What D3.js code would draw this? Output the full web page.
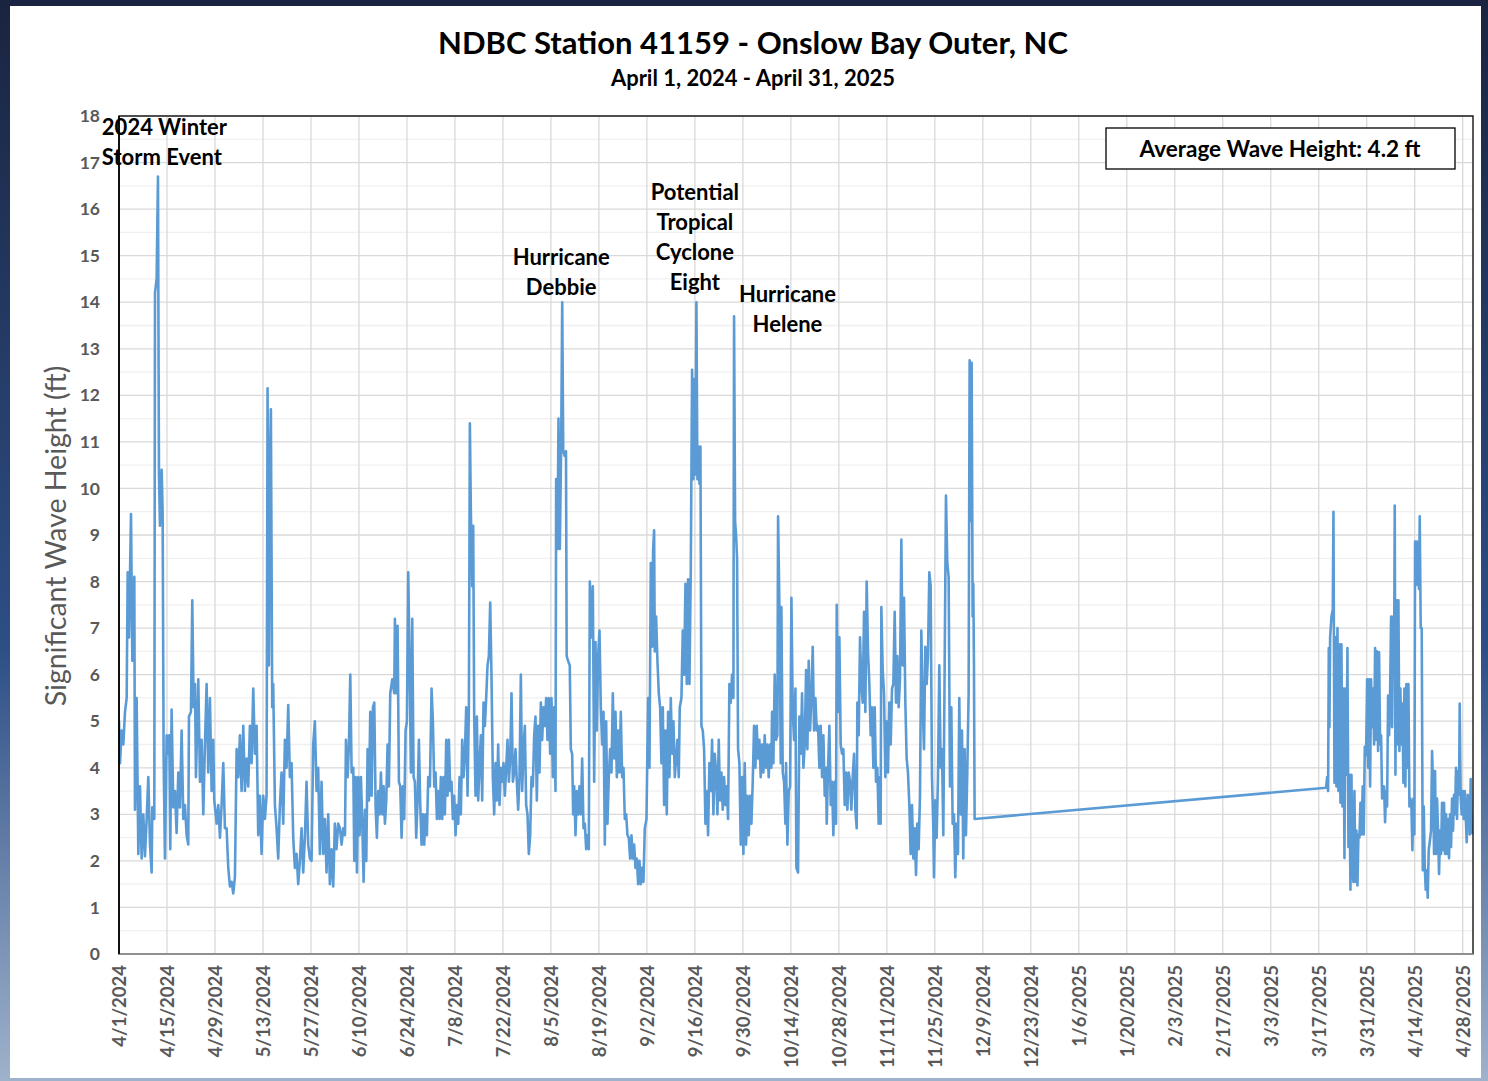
<!DOCTYPE html>
<html>
<head>
<meta charset="utf-8">
<script src="https://cdn.jsdelivr.net/npm/d3@7/dist/d3.min.js"></script>
<style>
  html, body { margin: 0; padding: 0; background: #1b2744; }
  svg { display: block; }
  text { font-family: Lato, "Open Sans", "DejaVu Sans", sans-serif; }
</style>
</head>
<body>
<script>
// ---------------- DATA ----------------
const chartTitle = "NDBC Station 41159 - Onslow Bay Outer, NC";
const chartSubtitle = "April 1, 2024 - April 31, 2025";
const yAxisTitle = "Significant Wave Height (ft)";
const averageLabel = "Average Wave Height: 4.2 ft";
const seriesStart = "2024-04-01";           // day 0 of the readings
const xDomainDates = ["2024-04-01", "2025-05-01"];
const yTickValues = [0,1,2,3,4,5,6,7,8,9,10,11,12,13,14,15,16,17,18];
const xTickLabels = ["4/1/2024","4/15/2024","4/29/2024","5/13/2024","5/27/2024","6/10/2024","6/24/2024",
  "7/8/2024","7/22/2024","8/5/2024","8/19/2024","9/2/2024","9/16/2024","9/30/2024","10/14/2024",
  "10/28/2024","11/11/2024","11/25/2024","12/9/2024","12/23/2024","1/6/2025","1/20/2025","2/3/2025",
  "2/17/2025","3/3/2025","3/17/2025","3/31/2025","4/14/2025","4/28/2025"];

// readings: [days since seriesStart, significant wave height ft]
const springRun2024 = [
[0,5.0],[0.29,4.1],[0.78,4.8],[1.26,4.5],[1.75,5.2],[2.24,5.5],[2.53,8.2],[2.92,6.8],[3.5,9.45],[3.89,6.3],
[4.47,8.1],[4.66,3.1],[5.15,5.5],[5.64,2.15],[6.12,3.6],[6.61,2.05],[7.09,3.0],[7.58,2.1],[8.07,2.9],[8.55,3.8],
[9.04,2.35],[9.52,1.75],[9.72,3.15],[10.3,2.9],[10.5,14.2],[10.98,14.5],[11.37,16.7],[11.66,10.3],[11.95,9.2],[12.44,10.4],
[12.73,9.5],[13.02,4.2],[13.41,2.05],[13.9,4.7],[14.38,4.3],[14.67,4.7],[14.96,2.25],[15.35,5.25],[15.84,3.15],[16.33,3.5],
[16.81,2.6],[17.3,3.9],[17.78,3.15],[18.27,4.8],[18.76,2.9],[19.24,3.2],[19.73,2.55],[20.21,2.35],[20.41,5.1],[20.99,5.2],
[21.38,7.6],[21.77,5.3],[22.16,5.8],[22.45,3.8],[23.13,5.9],[23.62,3.7],[24.1,4.6],[24.59,3.0],[25.07,4.5],[25.56,5.8],
[26.04,3.9],[26.53,5.5],[27.02,3.5],[27.5,4.6],[27.79,3.3],[28.47,2.8],[28.96,3.2],[29.45,2.5],[29.93,3.2],[30.42,4.1],
[30.9,2.7],[31.39,2.7],[31.88,1.85],[32.36,1.45],[32.85,1.55],[33.33,1.3],[33.82,1.65],[34.31,4.4],[34.79,3.8],[35.28,4.7],
[35.76,3.5],[36.25,4.9],[36.73,3.5],[37.22,4.2],[37.71,3.6],[38.19,4.9],[38.68,4.1],[39.16,5.7],[39.65,4.3],[40.14,4.9],
[40.62,2.55],[41.11,3.4],[41.59,2.15],[42.08,3.4],[42.57,2.9],[43.05,3.4],[43.34,12.15],[43.73,6.2],[44.02,10.4],[44.31,11.7],
[44.7,5.3],[44.99,5.8],[45.48,3.2],[45.97,2.7],[46.45,2.05],[46.94,3.2],[47.42,3.9],[47.91,2.8],[48.4,4.6],[48.88,4.0],
[49.37,5.35],[49.85,3.8],[50.34,4.1],[50.83,2.5],[51.31,1.85],[51.8,2.15],[52.28,1.5],[52.77,2.0],[53.26,2.7],[53.74,1.75],
[54.23,2.5],[54.71,3.7],[55.2,2.35],[55.69,2.05],[56.17,2.0],[56.66,4.5],[57.14,5.0],[57.63,3.5],[58.11,4.0],[58.6,2.15],
[59.09,3.7],[59.57,2.15],[60.06,2.9],[60.54,1.75],[61.03,3.0],[61.52,1.5],[62.0,2.25],[62.49,1.45],[62.97,2.8],[63.46,2.25],
[63.95,2.8]];

const summerRun2024 = [
[64.46,2.7],[64.94,2.35],[65.43,2.7],[65.92,2.55],[66.21,4.6],[66.69,3.8],[67.08,4.5],[67.47,6.0],[67.86,3.9],[68.35,4.0],
[68.64,2.0],[69.03,3.8],[69.41,1.75],[69.8,3.8],[70.19,2.55],[70.58,3.8],[70.97,2.8],[71.36,1.55],[71.75,3.1],[72.14,2.0],
[72.52,4.4],[72.91,3.3],[73.3,5.2],[73.69,3.4],[74.08,5.3],[74.47,5.4],[74.86,3.15],[75.24,2.5],[75.63,3.5],[76.02,3.0],
[76.41,3.9],[76.8,3.0],[77.19,3.6],[77.58,2.8],[77.97,3.3],[78.35,4.5],[78.74,3.6],[79.13,5.6],[79.72,5.9],[80.3,5.6],
[80.49,7.2],[80.88,5.6],[81.27,7.05],[81.66,3.7],[82.05,3.6],[82.44,2.5],[82.82,3.6],[83.21,2.9],[83.6,4.8],[83.99,5.0],
[84.38,8.2],[84.77,6.2],[85.16,3.9],[85.55,7.2],[85.94,3.8],[86.32,3.7],[86.71,2.5],[87.1,3.3],[87.49,4.6],[87.88,3.2],
[88.27,2.35],[88.66,3.0],[89.04,2.35],[89.43,3.0],[89.82,2.55],[90.21,3.8],[90.7,3.6],[91.18,5.7],[91.57,5.0],[91.96,3.6],
[92.35,3.9],[92.74,2.9],[93.13,3.5],[93.52,2.9],[93.9,3.8],[94.29,2.9],[94.68,3.8],[95.07,3.0],[95.46,4.6],[95.85,3.4],
[96.24,4.6],[96.63,3.5],[97.01,3.7],[97.4,2.9],[97.79,3.4],[98.18,2.55],[98.57,3.2],[98.96,2.8],[99.35,3.8],[99.73,3.0],
[100.12,4.6],[100.51,3.8],[100.9,4.3],[101.29,5.3],[101.68,3.4],[102.07,5.3],[102.36,11.4],[102.65,9.5],[103.04,7.9],[103.33,9.2],
[103.62,5.1],[104.01,3.4],[104.4,5.1],[104.79,3.3],[105.18,4.1],[105.57,4.7],[105.95,3.3],[106.34,5.4],[106.73,4.9],[107.12,5.5],
[107.51,6.2],[107.9,6.4],[108.29,7.55],[108.68,5.9],[109.06,3.8],[109.45,3.0],[109.84,4.1],[110.23,3.3],[110.62,4.5],[111.01,3.2],
[111.4,4.0],[111.79,3.7],[112.17,4.1],[112.56,3.4],[112.95,4.0],[113.34,4.6],[113.73,3.7],[114.12,4.2],[114.51,5.6],[114.9,3.7],
[115.28,3.9],[115.67,4.4],[116.06,3.7],[116.45,3.1],[116.84,3.8],[117.23,6.0],[117.62,3.5],[118.01,4.4],[118.39,4.9],[118.78,3.2],
[119.17,3.0],[119.56,2.15],[119.95,2.55],[120.34,3.8],[120.73,3.6],[121.12,4.7],[121.5,5.1],[121.89,3.3],[122.28,4.9],[122.67,3.9],
[123.06,5.4],[123.45,4.6],[123.84,5.3],[124.23,4.9],[124.61,5.5],[125.0,4.6],[125.39,5.5],[125.78,4.3],[126.17,5.5],[126.56,3.8],
[126.95,5.3],[127.34,3.5],[127.53,10.2],[127.92,8.7],[128.21,11.5]];

const lateSummerRun2024 = [
[128.6,8.7],[129.0,11.0],[129.3,14.0],[129.6,10.8],[130.0,10.7],[130.4,10.8],[130.6,6.4],[131.0,6.3],[131.5,6.2],
[131.81,4.4],[132.2,4.3],[132.49,3.0],[132.79,3.6],[133.18,2.55],[133.56,3.5],[133.95,3.0],[134.34,3.6],[134.73,3.0],[135.12,4.2],
[135.51,2.7],[135.9,2.8],[136.29,2.25],[136.67,2.55],[137.06,2.25],[137.35,8.0],[137.84,6.8],[138.23,7.9],[138.62,3.7],[139.01,6.7],
[139.39,4.8],[139.78,6.4],[140.17,6.95],[140.56,5.3],[140.95,4.5],[141.34,5.2],[141.73,2.35],[142.12,5.0],[142.5,2.8],[142.89,3.8],
[143.28,4.4],[143.67,3.9],[144.06,5.6],[144.45,4.2],[144.84,5.2],[145.23,3.8],[145.61,4.8],[146.0,3.9],[146.39,5.2],[146.78,3.8],
[147.17,4.0],[147.56,2.9],[147.95,3.0],[148.34,2.55],[148.72,2.5],[149.11,2.05],[149.5,2.55],[149.89,2.05],[150.28,2.35],[150.67,1.85],
[151.06,2.05],[151.45,1.5],[151.83,2.0],[152.22,1.5],[152.61,1.85],[153.0,1.55],[153.39,2.7],[153.88,2.9],[154.36,5.5],[154.75,4.0],
[155.14,8.4],[155.53,6.6],[155.82,8.7],[156.11,9.1],[156.3,6.5],[156.69,7.25],[157.08,6.3],[157.47,5.6],[157.86,5.3],[158.25,4.1],
[158.64,5.3],[159.03,3.2],[159.41,4.8],[159.8,3.0],[160.19,5.2],[160.58,3.8],[160.97,5.5],[161.36,4.3],[161.75,5.0],[162.14,3.8],
[162.52,4.2],[162.91,4.6],[163.3,3.8],[163.59,5.3],[164.08,5.5],[164.47,6.95],[164.86,6.0],[165.25,7.95],[165.63,5.8],[166.02,8.05],
[166.41,5.8],[166.8,8.2],[167.19,12.55],[167.58,10.2],[167.87,12.35],[168.16,10.3],[168.45,14.0],[168.74,10.2],[169.03,10.9],[169.33,10.1],
[169.62,10.9],[169.91,4.9],[170.3,4.8],[170.69,4.4],[171.08,2.8],[171.46,3.5],[171.85,2.55],[172.24,4.1],[172.63,3.5],[173.02,4.6],
[173.41,3.0],[173.8,4.3],[174.19,3.9],[174.58,3.0],[174.96,4.6],[175.35,3.3],[175.74,3.9],[176.13,3.1],[176.52,3.8],[176.91,3.2],
[177.3,3.6],[177.68,2.9],[178.07,5.8],[178.46,5.4],[178.85,6.0],[179.24,5.5],[179.43,13.7],[179.73,9.3],[180.02,9.0],[180.31,8.5],
[180.6,4.4],[180.99,4.1],[181.38,2.35],[181.77,3.8],[182.15,2.15],[182.54,4.1],[182.93,2.35],[183.32,3.4],[183.71,2.55],[184.1,3.4],
[184.49,2.8],[184.88,3.7],[185.26,4.9],[185.65,4.0],[186.04,4.9],[186.43,4.2],[186.82,4.6],[187.21,3.8],[187.6,4.5],[187.99,3.9],
[188.37,4.7],[188.76,4.0],[189.15,4.5],[189.54,3.8],[189.93,4.5],[190.32,4.0],[190.51,5.2],[190.9,4.1],[191.29,6.0],[191.68,4.6],
[192.07,4.7]];

const fallRun2024 = [
[192.27,9.4],[192.66,7.45],[193.05,4.1],[193.24,7.45],[193.63,3.9],[194.02,3.7],[194.41,2.8],[194.6,4.1],[194.99,2.35],[195.38,3.5],
[195.77,3.6],[196.16,7.65],[196.55,5.2],[196.94,4.6],[197.33,5.7],[197.62,1.85],[198.1,1.75],[198.49,5.1],[198.88,4.3],[199.27,5.6],
[199.66,4.0],[200.05,4.5],[200.44,6.1],[200.82,4.4],[201.21,6.3],[201.6,4.8],[201.99,5.5],[202.38,6.6],[202.77,4.8],[203.16,5.5],
[203.55,4.8],[203.93,4.9],[204.32,4.0],[204.71,4.9],[205.1,3.8],[205.49,4.7],[205.88,3.4],[206.27,4.0],[206.46,2.8],[206.85,4.0],
[207.24,4.9],[207.63,3.2],[208.02,3.7],[208.4,2.55],[208.79,3.7],[209.18,2.8],[209.38,7.5],[209.76,5.2],[210.15,6.8],[210.54,4.5],
[210.93,4.3],[211.32,4.4],[211.71,3.2],[212.1,3.9],[212.49,3.1],[212.87,3.9],[213.26,3.7],[213.65,3.1],[214.04,3.8],[214.43,4.3],
[214.82,3.1],[215.21,2.7],[215.4,5.4],[215.79,4.7],[216.18,6.8],[216.57,5.8],[216.96,5.4],[217.35,7.35],[217.73,5.2],[218.12,8.0],
[218.51,6.5],[218.9,5.8],[219.29,4.7],[219.68,5.3],[220.07,4.0],[220.46,5.3],[220.84,3.7],[221.23,4.0],[221.62,2.8],[222.01,3.8],
[222.2,2.8],[222.4,7.45],[222.79,6.1],[223.18,5.6],[223.56,3.8],[223.95,5.0],[224.34,3.9],[224.73,5.4],[225.12,4.5],[225.51,5.7],
[225.9,5.8],[226.29,7.35],[226.67,5.4],[227.06,6.4],[227.45,5.3],[227.84,5.9],[228.23,8.9],[228.62,6.2],[229.01,7.65],[229.4,5.4],
[229.78,4.2],[230.17,3.9],[230.56,3.2],[230.95,2.15],[231.34,3.2],[231.73,2.05],[232.12,2.7],[232.51,1.7],[232.89,2.8],[233.28,2.25],
[233.67,3.4],[234.06,6.95],[234.45,5.4],[234.84,4.4],[235.23,6.6],[235.62,5.8],[236.0,6.4],[236.39,8.2],[236.78,7.9],[237.17,3.8],
[237.56,2.7],[237.75,1.65],[238.14,3.3],[238.53,2.5],[238.92,3.8],[239.31,6.2],[239.7,4.0],[240.09,4.4],[240.47,2.55],[240.86,6.1],
[241.25,9.85],[241.64,8.4],[242.03,8.1],[242.42,3.6],[242.81,5.3],[243.2,2.8],[243.58,3.0],[243.97,1.65],[244.36,2.8],[244.75,2.15],
[245.14,5.5],[245.53,3.0],[245.92,4.8],[246.3,2.05],[246.69,4.4],[247.08,2.55],[247.47,3.9],[247.86,5.6],[248.15,12.75],[248.44,9.3],
[248.74,12.7],[249.03,7.25],[249.22,7.95],[249.41,6.3],[249.61,2.9]];

const springRun2025 = [
[352.15,3.57],[352.44,3.8],[352.73,3.5],[352.93,6.57],[353.12,4.87],[353.32,6.8],[353.71,7.25],[354.1,7.4],[354.29,9.5],[354.58,3.68],
[354.87,6.8],[355.17,3.6],[355.46,7.0],[355.75,3.5],[356.04,6.65],[356.33,3.25],[356.62,6.65],[356.91,3.17],[357.21,5.7],[357.5,2.06],
[357.79,5.7],[358.08,3.85],[358.37,6.57],[358.66,2.3],[358.95,3.85],[359.25,1.38],[359.54,3.85],[359.83,1.8],[360.12,1.55],[360.41,3.5],
[360.7,1.55],[360.99,2.65],[361.29,1.47],[361.58,2.57],[361.87,2.5],[362.16,3.25],[362.45,2.57],[362.84,3.6],[363.13,2.57],[363.43,4.45],
[363.81,4.27],[364.11,5.9],[364.4,4.0],[364.69,5.9],[364.98,3.6],[365.27,5.9],[365.56,4.87],[365.86,5.7],[366.15,4.5],[366.44,6.57],
[366.73,4.6],[367.02,6.5],[367.31,4.36],[367.6,6.48],[367.9,4.5],[368.19,4.7],[368.48,3.34],[368.77,3.5],[369.06,3.6],[369.35,2.83],
[369.65,3.5],[369.94,3.17],[370.23,5.55],[370.52,4.7],[370.81,5.55],[371.1,7.25],[371.39,4.87],[371.69,7.25],[371.98,6.14],[372.17,9.63],
[372.37,3.85],[372.66,7.6],[372.95,4.5],[373.24,7.6],[373.53,4.36],[373.82,5.7],[374.11,4.5],[374.41,5.38],[374.7,3.68],[374.99,5.7],
[375.28,3.6],[375.57,5.8],[375.86,4.0],[376.16,5.8],[376.45,3.17],[376.74,3.34],[377.03,3.17],[377.32,2.23],[377.61,3.34],[377.9,2.57],
[378.1,8.86],[378.39,7.93],[378.68,8.86],[378.97,8.0],[379.27,7.84],[379.46,9.4],[379.75,7.0],[380.04,7.0],[380.34,1.8],[380.63,3.17],
[380.92,1.9],[381.21,1.38],[381.5,1.8],[381.79,1.21],[382.08,2.23],[382.38,2.4],[382.76,2.65],[383.06,4.36],[383.35,3.6],[383.64,2.15],
[383.93,3.93],[384.22,2.15],[384.51,3.34],[384.81,2.65],[385.1,1.72],[385.39,2.65],[385.68,2.15],[385.97,3.25],[386.26,2.23],[386.55,3.25],
[386.85,2.15],[387.14,3.0],[387.43,2.15],[387.72,2.9],[388.01,2.06],[388.3,3.0],[388.6,2.3],[388.89,3.34],[389.18,2.65],[389.47,3.42],
[389.76,3.0],[390.05,4.0],[390.34,2.9],[390.64,3.93],[390.93,3.42],[391.12,5.38],[391.41,3.34],[391.7,3.0],[392.0,3.5],[392.29,2.9],
[392.58,3.5],[392.87,3.0],[393.16,2.4],[393.46,3.42],[393.75,3.34],[394.04,2.57],[394.33,3.76],[394.62,2.57]];

// annotation anchors (date, ft = baseline of first line)
const stormNotes = [
  { lines: ["2024 Winter", "Storm Event"], date: "2024-03-27", ft: 17.6, anchor: "start" },
  { lines: ["Hurricane", "Debbie"], date: "2024-08-08", ft: 14.8, anchor: "middle" },
  { lines: ["Potential", "Tropical", "Cyclone", "Eight"], date: "2024-09-16", ft: 16.2, anchor: "middle" },
  { lines: ["Hurricane", "Helene"], date: "2024-10-13", ft: 14.0, anchor: "middle" }
];

// ---------------- LAYOUT ----------------
const W = 1488, H = 1081;
const plot = { left: 119, right: 1473, top: 116, bottom: 954 };
const DAY = 86400000;
const parseISO = s => new Date(s + "T00:00:00Z");
const parseMDY = s => { const [m, d, y] = s.split("/").map(Number); return new Date(Date.UTC(y, m - 1, d)); };
const t0 = parseISO(seriesStart).getTime();

const allReadings = [].concat(springRun2024, summerRun2024, lateSummerRun2024, fallRun2024, springRun2025)
  .map(([d, v]) => ({ date: new Date(t0 + d * DAY), ft: v }));

const x = d3.scaleUtc().domain(xDomainDates.map(parseISO)).range([plot.left, plot.right]);
const y = d3.scaleLinear().domain([0, 18]).range([plot.bottom, plot.top]);

const svg = d3.select("body").append("svg").attr("width", W).attr("height", H);

// slide-like backdrop
const defs = svg.append("defs");
const lg = defs.append("linearGradient").attr("id", "bg").attr("x1", 0).attr("y1", 0).attr("x2", 0).attr("y2", 1);
lg.append("stop").attr("offset", "0%").attr("stop-color", "#1a2440");
lg.append("stop").attr("offset", "60%").attr("stop-color", "#2d4f86");
lg.append("stop").attr("offset", "100%").attr("stop-color", "#9fb2cc");
svg.append("rect").attr("width", W).attr("height", H).attr("fill", "url(#bg)");
svg.append("rect").attr("x", 10).attr("y", 6).attr("width", 1471).attr("height", 1072).attr("fill", "#ffffff");

defs.append("clipPath").attr("id", "plotClip").append("rect")
  .attr("x", plot.left).attr("y", plot.top).attr("width", plot.right - plot.left).attr("height", plot.bottom - plot.top);

// gridlines
const minorY = d3.range(0.5, 18, 1);
svg.append("g").selectAll("line").data(minorY).join("line")
  .attr("x1", plot.left).attr("x2", plot.right).attr("y1", d => y(d)).attr("y2", d => y(d))
  .attr("stroke", "#f0f0f0").attr("stroke-width", 1.3);
svg.append("g").selectAll("line").data(yTickValues).join("line")
  .attr("x1", plot.left).attr("x2", plot.right).attr("y1", d => y(d)).attr("y2", d => y(d))
  .attr("stroke", "#d9d9d9").attr("stroke-width", 1.3);
const tickDates = xTickLabels.map(parseMDY);
svg.append("g").selectAll("line").data(tickDates).join("line")
  .attr("x1", d => x(d)).attr("x2", d => x(d)).attr("y1", plot.top).attr("y2", plot.bottom)
  .attr("stroke", "#d9d9d9").attr("stroke-width", 1.3);

// series line
const line = d3.line().x(d => x(d.date)).y(d => y(d.ft));
svg.append("path").datum(allReadings)
  .attr("clip-path", "url(#plotClip)")
  .attr("d", line).attr("fill", "none")
  .attr("stroke", "#5b9bd5").attr("stroke-width", 2.6).attr("stroke-linejoin", "round");

// plot frame
svg.append("rect").attr("x", plot.left).attr("y", plot.top)
  .attr("width", plot.right - plot.left).attr("height", plot.bottom - plot.top)
  .attr("fill", "none").attr("stroke", "#000").attr("stroke-width", 1.3);
svg.append("line").attr("x1", plot.left).attr("x2", plot.right).attr("y1", plot.bottom).attr("y2", plot.bottom)
  .attr("stroke", "#a6a6a6").attr("stroke-width", 1.6);
svg.append("line").attr("x1", plot.left).attr("x2", plot.left).attr("y1", plot.top).attr("y2", plot.bottom)
  .attr("stroke", "#000").attr("stroke-width", 1.6);

// y axis
const yAxis = d3.axisLeft(y).tickValues(yTickValues).tickSize(0).tickPadding(19);
const gy = svg.append("g").attr("transform", `translate(${plot.left},0)`).call(yAxis);
gy.select(".domain").remove();
gy.selectAll("text").attr("fill", "#595959").attr("font-size", 17.5).attr("font-weight", 700)
  .style("font-family", "Lato, sans-serif");

// x axis
const xAxis = d3.axisBottom(x).tickValues(tickDates).tickSize(0).tickFormat((d, i) => xTickLabels[i]);
const gx = svg.append("g").attr("transform", `translate(0,${plot.bottom})`).call(xAxis);
gx.select(".domain").remove();
gx.selectAll("text")
  .attr("fill", "#595959").attr("font-size", 18.5).attr("font-weight", 700)
  .style("font-family", "Lato, sans-serif")
  .attr("text-anchor", "end").attr("transform", "rotate(-90)")
  .attr("x", -11).attr("y", 0).attr("dy", "0.36em");

// axis title
svg.append("text").attr("transform", `translate(66,${(plot.top + plot.bottom) / 2 + 1}) rotate(-90)`)
  .attr("text-anchor", "middle").attr("fill", "#595959").attr("font-size", 28.5).text(yAxisTitle);

// titles
svg.append("text").attr("x", 753).attr("y", 54).attr("text-anchor", "middle")
  .attr("font-size", 31).attr("font-weight", 700).attr("fill", "#000").text(chartTitle);
svg.append("text").attr("x", 753).attr("y", 86).attr("text-anchor", "middle")
  .attr("font-size", 22).attr("font-weight", 700).attr("fill", "#000").text(chartSubtitle);

// average box
svg.append("rect").attr("x", 1106).attr("y", 128).attr("width", 349).attr("height", 41)
  .attr("fill", "#fff").attr("stroke", "#000").attr("stroke-width", 1.3);
svg.append("text").attr("x", 1280).attr("y", 157).attr("text-anchor", "middle")
  .attr("font-size", 22.5).attr("font-weight", 700).attr("fill", "#000").text(averageLabel);

// storm annotations
const notes = svg.append("g");
stormNotes.forEach(n => {
  const t = notes.append("text").attr("text-anchor", n.anchor)
    .attr("font-size", 22).attr("font-weight", 700).attr("fill", "#000");
  n.lines.forEach((s, i) => {
    t.append("tspan").attr("x", x(parseISO(n.date))).attr("y", y(n.ft) + i * 30).text(s);
  });
});
</script>
</body>
</html>
